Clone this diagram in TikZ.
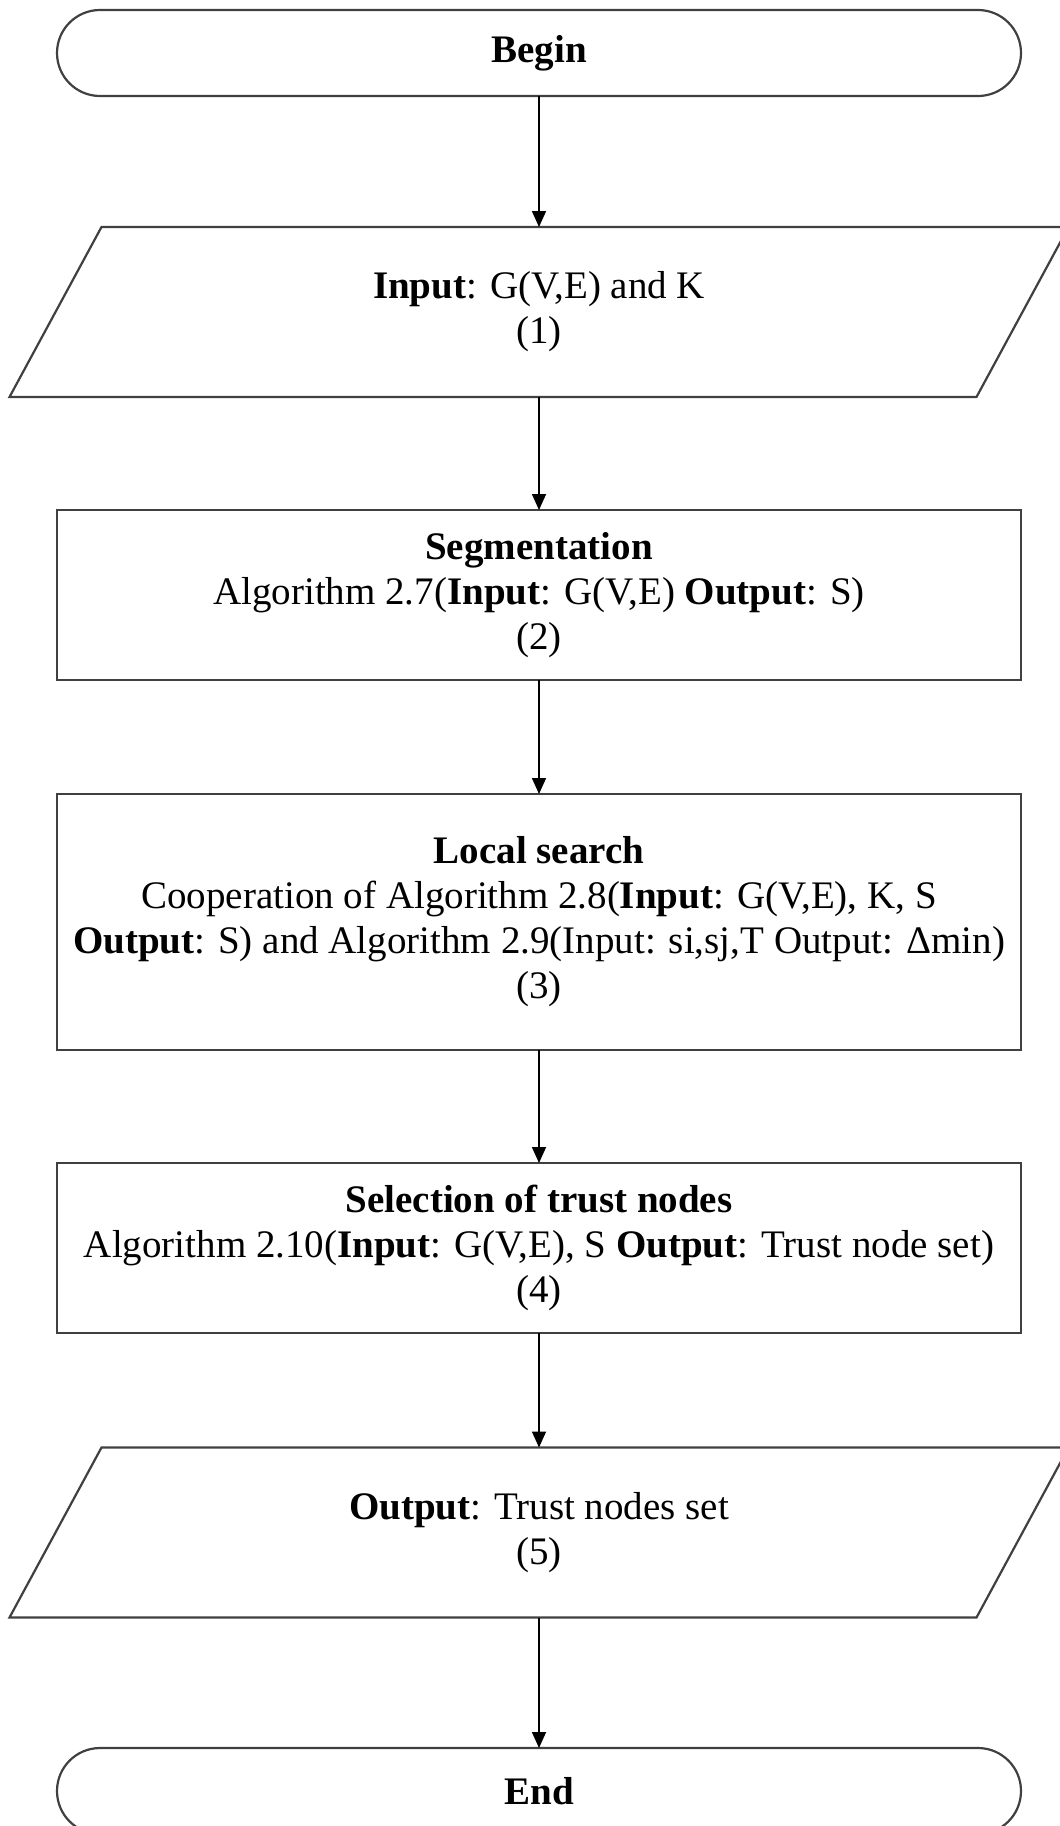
\documentclass[tikz,border=0pt]{standalone}
\usepackage{fontspec}
\setmainfont{Liberation Serif}
\usetikzlibrary{arrows.meta}
\definecolor{boxline}{gray}{0.25}
\newcommand{\flowfont}{\fontsize{39}{45}\selectfont}

\begin{document}
\begin{tikzpicture}[x=1pt,y=-1pt,
  shapeline/.style={draw=boxline, line width=2.2pt},
  term/.style={shapeline, rounded corners=43pt, minimum width=964pt, minimum height=86pt,
    inner sep=0pt, outer sep=0pt, font=\flowfont\bfseries},
  proc/.style={shapeline, minimum width=964pt, inner sep=0pt, outer sep=0pt,
    align=center, font=\flowfont},
  io/.style={minimum width=967pt, minimum height=170pt, inner sep=0pt, outer sep=0pt,
    align=center, font=\flowfont},
  flow/.style={-{Triangle[length=16pt,width=14pt]}, line width=1.6pt, black}
]
\useasboundingbox (0,0) rectangle (1060,1826);

% terminals
\node[term] (begin) at (539,53) {Begin};
\node[term] (end) at (539,1791) {End};

% input / output (parallelograms drawn around the text nodes)
\node[io] (in) at (539,312) {\textbf{Input}: G(V,E) and K\\(1)};
\node[io] (out) at (539,1532.5) {\textbf{Output}: Trust nodes set\\(5)};
\foreach \n in {in,out}{
  \draw[shapeline, line join=miter]
    ([xshift=46pt]\n.north west) -- ([xshift=46pt]\n.north east) --
    ([xshift=-46pt]\n.south east) -- ([xshift=-46pt]\n.south west) -- cycle;
}

% processing steps
\node[proc, minimum height=170pt] (seg) at (539,595)
  {\textbf{Segmentation}\\Algorithm 2.7(\textbf{Input}: G(V,E) \textbf{Output}: S)\\(2)};
\node[proc, minimum height=256pt] (local) at (539,922)
  {\textbf{Local search}\\Cooperation of Algorithm 2.8(\textbf{Input}: G(V,E), K, S\\
   \textbf{Output}: S) and Algorithm 2.9(Input: si,sj,T Output: Δmin)\\(3)};
\node[proc, minimum height=170pt] (sel) at (539,1248)
  {\textbf{Selection of trust nodes}\\Algorithm 2.10(\textbf{Input}: G(V,E), S \textbf{Output}: Trust node set)\\(4)};

% connectors
\draw[flow] (begin.south) -- (in.north);
\draw[flow] (in.south) -- (seg.north);
\draw[flow] (seg.south) -- (local.north);
\draw[flow] (local.south) -- (sel.north);
\draw[flow] (sel.south) -- (out.north);
\draw[flow] (out.south) -- (end.north);
\end{tikzpicture}
\end{document}
